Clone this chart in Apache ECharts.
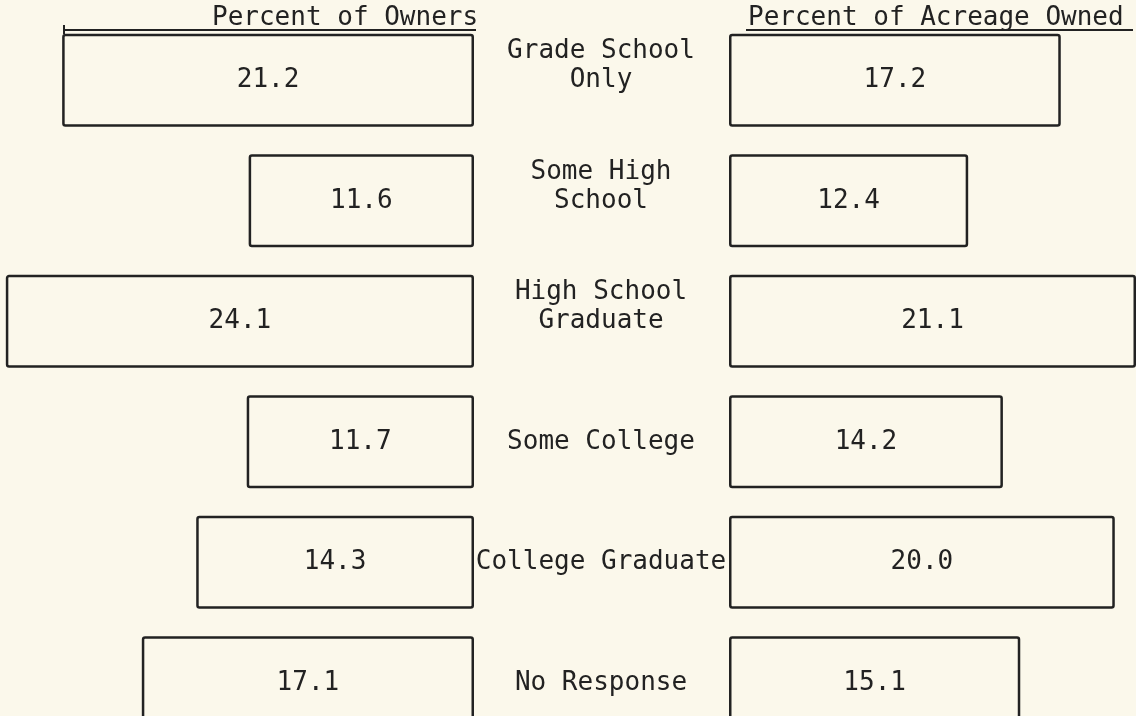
<!DOCTYPE html>
<html>
<head>
<meta charset="utf-8">
<script src="https://cdn.jsdelivr.net/npm/echarts@6/dist/echarts.min.js"></script>
<style>
  html, body { margin: 0; padding: 0; background: #fbf8eb; overflow: hidden; }
  /* taller than the window: the last row is cut off at the bottom like in the scan */
  #main { width: 1136px; height: 750px; }
</style>
</head>
<body>
<div id="main"></div>
<script>
// education level of owners
var categories = ['Grade School\nOnly', 'Some High\nSchool', 'High School\nGraduate', 'Some College', 'College Graduate', 'No Response'];
var ownersPct = [21.2, 11.6, 24.1, 11.7, 14.3, 17.1];
var acreagePct = [17.2, 12.4, 21.1, 14.2, 20.0, 15.1];

var ink = '#222';
var paper = '#fbf8eb';
var mono = '"DejaVu Sans Mono", monospace';

var myChart = echarts.init(document.getElementById('main'));

function barLabel(p) {
	return p.value.toFixed(1);
}

// two-line names sit a bit higher than the box middle in the original
function catLabel(v) {
	return v.indexOf('\n') >= 0 ? v + '\n' : v;
}

myChart.setOption({
	backgroundColor: paper,
	animation: false,

	title: [
		{
			text: 'Percent of Owners',
			left: 212,
			top: 5,
			padding: 0,
			textStyle: { fontFamily: mono, fontSize: 26, fontWeight: 'normal', color: ink }
		},
		{
			text: 'Percent of Acreage Owned',
			left: 748,
			top: 5,
			padding: 0,
			textStyle: { fontFamily: mono, fontSize: 26, fontWeight: 'normal', color: ink }
		}
	],

	// underlines under the two headings
	graphic: [
		{ type: 'line', shape: { x1: 64, y1: 30, x2: 476, y2: 30 }, style: { stroke: ink, lineWidth: 2 } },
		{ type: 'line', shape: { x1: 64, y1: 25, x2: 64, y2: 34 }, style: { stroke: ink, lineWidth: 2 } },
		{ type: 'line', shape: { x1: 746, y1: 30, x2: 1133, y2: 30 }, style: { stroke: ink, lineWidth: 2 } }
	],

	grid: [
		{ left: 0, width: 474, top: 20, height: 723 },
		{ left: 729, width: 407, top: 20, height: 723 }
	],

	xAxis: [
		{ gridIndex: 0, type: 'value', inverse: true, min: 0, max: 24.4, show: false },
		{ gridIndex: 1, type: 'value', min: 0, max: 21.1, show: false }
	],

	yAxis: [
		{
			gridIndex: 0,
			type: 'category',
			inverse: true,
			position: 'right',
			data: categories,
			axisLine: { show: false },
			axisTick: { show: false },
			axisLabel: {
				margin: 127,
				align: 'center',
				formatter: catLabel,
				fontFamily: mono,
				fontSize: 26,
				lineHeight: 29,
				color: ink
			}
		},
		{ gridIndex: 1, type: 'category', inverse: true, data: categories, show: false }
	],

	series: [
		{
			name: 'Percent of Owners',
			type: 'bar',
			xAxisIndex: 0,
			yAxisIndex: 0,
			barWidth: 93,
			itemStyle: { color: paper, borderColor: ink, borderWidth: 2.5, borderRadius: 2 },
			label: { show: true, position: 'inside', formatter: barLabel, fontFamily: mono, fontSize: 26, color: ink },
			data: ownersPct
		},
		{
			name: 'Percent of Acreage Owned',
			type: 'bar',
			xAxisIndex: 1,
			yAxisIndex: 1,
			barWidth: 93,
			itemStyle: { color: paper, borderColor: ink, borderWidth: 2.5, borderRadius: 2 },
			label: { show: true, position: 'inside', formatter: barLabel, fontFamily: mono, fontSize: 26, color: ink },
			data: acreagePct
		}
	]
});
</script>
</body>
</html>
